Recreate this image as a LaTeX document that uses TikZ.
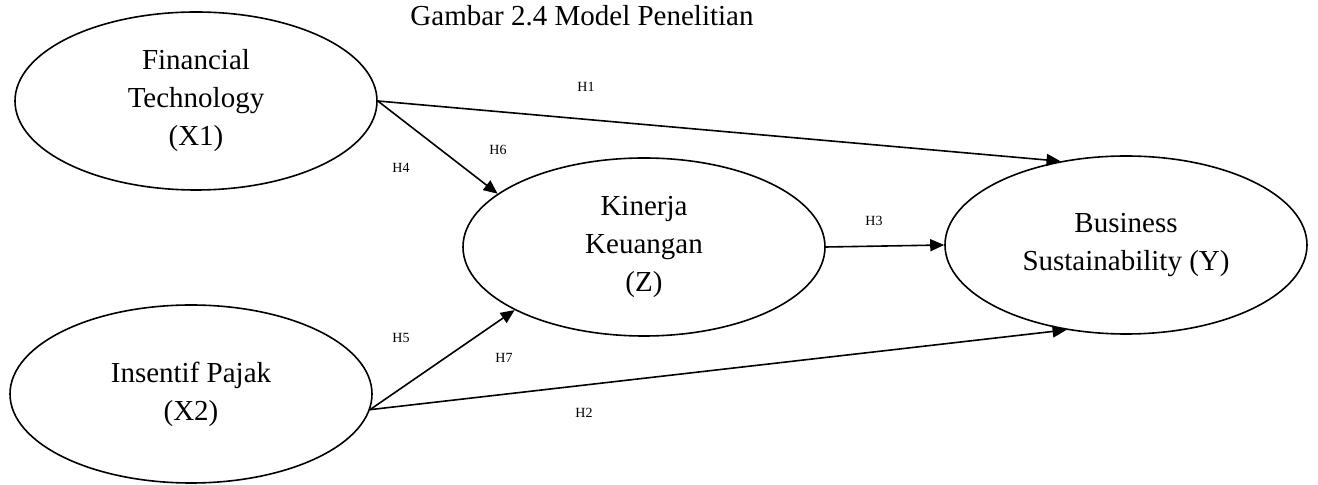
\documentclass[tikz,border=0pt]{standalone}
\usepackage{fontspec}
\setmainfont{Liberation Serif}
\usetikzlibrary{shapes.geometric,arrows.meta}

\begin{document}
\begin{tikzpicture}[x=0.5pt,y=-0.5pt,>={Triangle[length=7pt,width=6pt]},line width=0.8pt,
  var/.style={ellipse,draw,minimum width=181pt,minimum height=89pt,inner sep=0pt,align=center,
    font=\fontsize{14.5}{19}\selectfont},
  hyp/.style={font=\fontsize{7}{8}\selectfont}]
  \useasboundingbox (0,0) rectangle (1318,485);
  \node[font=\fontsize{14.5}{17}\selectfont] (title) at (582,16) {Gambar 2.4 Model Penelitian};
  \node[var] (X1) at (196,101) {Financial\\Technology\\(X1)};
  \node[var] (X2) at (191,394) {Insentif Pajak\\(X2)};
  \node[var] (Z) at (644,247) {Kinerja\\Keuangan\\(Z)};
  \node[var] (Y) at (1126,245) {Business\\Sustainability (Y)};
  \draw[->] (X1.east) -- (Y.128);
  \draw[->] (X1.east) -- (Z.160);
  \draw[->] (Z.east) -- (Y.west);
  \draw[->] (X2.-5) -- (Z.206);
  \draw[->] (X2.-5) -- (Y.235);
  \foreach \h/\px/\py in {H1/586/87,H6/498/150,H4/401/168,H3/874/221,H5/401/338,H7/504/358,H2/584/413}
    \node[hyp] (\h) at (\px,\py) {\h};
\end{tikzpicture}
\end{document}
